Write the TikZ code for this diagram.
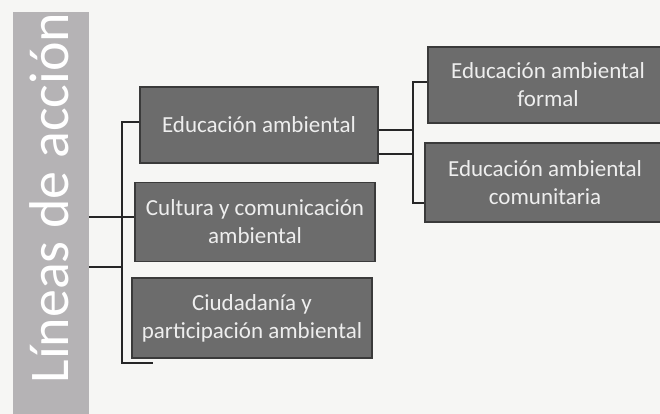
\documentclass[tikz,border=0pt]{standalone}
\usepackage{fontspec}
\setmainfont{Carlito}
\definecolor{paper}{HTML}{F6F6F4}
\definecolor{banner}{HTML}{B5B3B5}
\definecolor{boxfill}{HTML}{6C6C6C}
\definecolor{boxedge}{HTML}{3A3A3A}
\definecolor{boxtext}{HTML}{EEEEEE}
\begin{document}
\begin{tikzpicture}[x=1pt,y=-1pt,
  gbox/.style={draw=boxedge, line width=1.6pt, fill=boxfill, text=boxtext,
    align=center, inner sep=0pt, font=\fontsize{23}{28}\selectfont},
  conn/.style={draw=black!85, line width=1.3pt}]
\useasboundingbox (0,0) rectangle (660,414);
\clip (0,0) rectangle (660,414);
\fill[paper] (0,0) rectangle (660,414);
% banner
\node[fill=banner, minimum width=76pt, minimum height=404pt, inner sep=0pt] (banner) at (51,214) {};
\node[rotate=90, text=white, font=\fontsize{56}{56}\selectfont] (title) at (49,198) {Líneas de acción};
% boxes
\node[gbox, minimum width=238pt, minimum height=76pt] (b1) at (259,125) {Educación ambiental};
\node[gbox, minimum width=240pt, minimum height=79pt] (b2) at (255,222) {Cultura y comunicación\\ambiental};
\node[gbox, minimum width=240pt, minimum height=80pt] (b3) at (252,318) {Ciudadanía y\\participación ambiental};
\node[gbox, minimum width=240pt, minimum height=76pt] (b4) at (548,85) {Educación ambiental\\formal};
\node[gbox, minimum width=240pt, minimum height=79pt] (b5) at (545,182.5) {Educación ambiental\\comunitaria};
% left bracket
\coordinate (lt) at (122,122);
\coordinate (lb) at (122,363);
\coordinate (lbe) at (153,363);
\draw[conn] (b1.west |- lt) -- (lt) -- (lb) -- (lbe);
\draw[conn] (banner.east |- 0,217) -- (b2.west |- 0,217);
\draw[conn] (banner.east |- 0,267) -- (122,267);
% right bracket
\coordinate (rt) at (413,82);
\coordinate (rb) at (413,203);
\draw[conn] (b4.west |- rt) -- (rt) -- (rb) -- (b5.west |- rb);
\draw[conn] (b1.east |- 0,130) -- (413,130);
\draw[conn] (b1.east |- 0,154) -- (413,154);
\end{tikzpicture}
\end{document}
